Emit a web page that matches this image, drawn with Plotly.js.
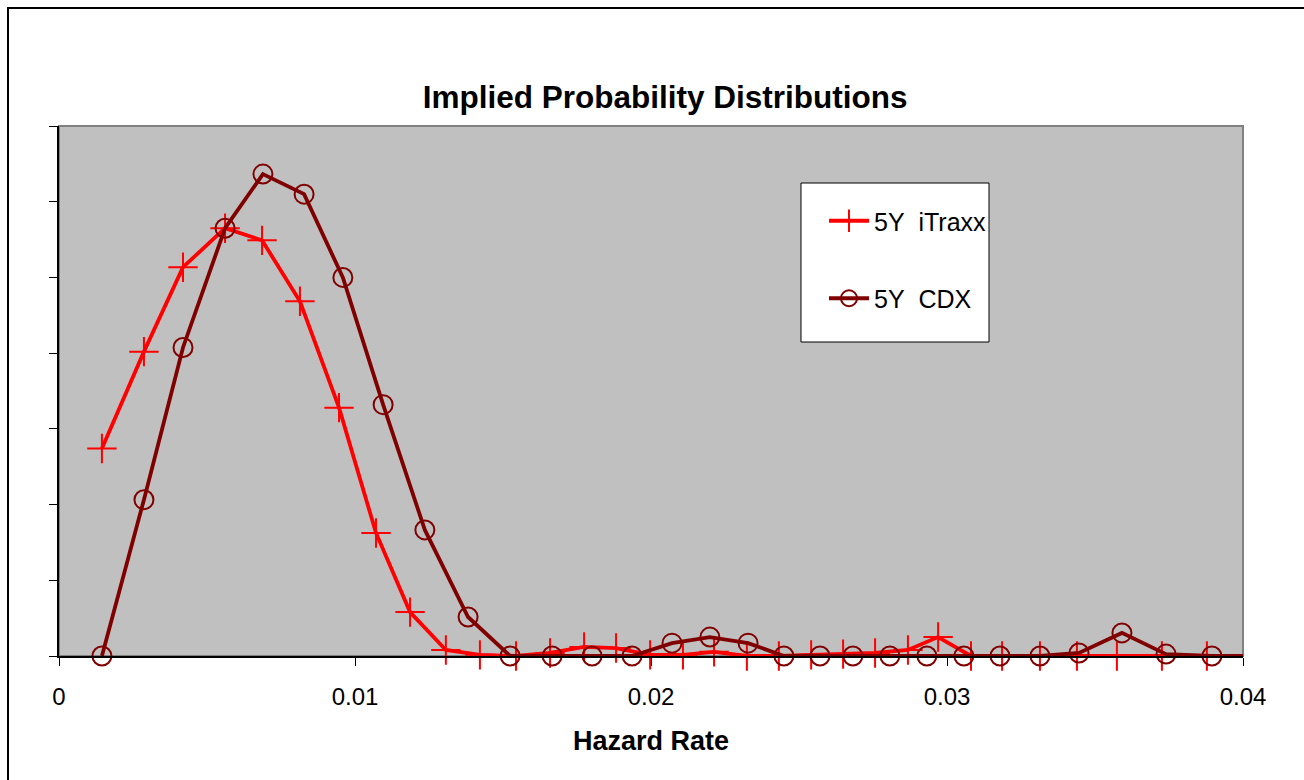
<!DOCTYPE html>
<html>
<head>
<meta charset="utf-8">
<script src="https://cdn.plot.ly/plotly-3.0.1.min.js"></script>
<style>
  html, body { margin: 0; padding: 0; background: #ffffff; }
  #chart { width: 1304px; height: 780px; }
</style>
</head>
<body>
<div id="chart"></div>
<script>
// Hazard rate grid and implied probabilities (y in arbitrary % units, axis unlabeled)
const itraxxHazard = [0.00145, 0.00287, 0.00419, 0.00561, 0.00686, 0.00814, 0.00946, 0.01071, 0.01186, 0.01307,
  0.01422, 0.01544, 0.01659, 0.01774, 0.01882, 0.01997, 0.02108, 0.02213, 0.02324, 0.02432,
  0.02541, 0.02649, 0.02757, 0.02868, 0.02970, 0.03081, 0.03186, 0.03314, 0.03439, 0.03574,
  0.03726, 0.03878, 0.04041];
const itraxxProb = [5.48, 8.04, 10.27, 11.30, 10.98, 9.37, 6.56, 3.25, 1.16, 0.16,
  0.03, 0.0, 0.08, 0.24, 0.21, 0.03, 0.03, 0.11, 0.0, 0.0,
  0.03, 0.05, 0.08, 0.16, 0.50, 0.0, 0.0, 0.0, 0.0, 0.0,
  0.0, 0.0, 0.0];

const cdxHazard = [0.00145, 0.00287, 0.00419, 0.00561, 0.00689, 0.00828, 0.00959, 0.01095, 0.01236, 0.01382,
  0.01524, 0.01666, 0.01801, 0.01936, 0.02071, 0.02199, 0.02328, 0.02449, 0.02571, 0.02682,
  0.02807, 0.02932, 0.03057, 0.03179, 0.03314, 0.03446, 0.03591, 0.03740, 0.03895, 0.04041];
const cdxProb = [0.0, 4.13, 8.15, 11.30, 12.73, 12.20, 10.00, 6.64, 3.33, 1.03,
  0.0, 0.0, 0.0, 0.0, 0.34, 0.50, 0.34, 0.0, 0.0, 0.0,
  0.0, 0.0, 0.0, 0.0, 0.0, 0.08, 0.61, 0.05, 0.0, 0.0];

const seriesNames = ["5Y\u00a0 iTraxx", "5Y\u00a0 CDX"];
const xTickVals = [0, 0.01, 0.02, 0.03, 0.04];
const xTickText = ["0", "0.01", "0.02", "0.03", "0.04"];

const FONT = "Liberation Sans, Arial, sans-serif";

// helpers to convert reference pixel positions to paper fractions (layout only)
const PL = 59, PT = 126, PW = 1184, PH = 530;
const px = v => (v - PL) / PW;
const py = v => (PT + PH - v) / PH;

const traces = [
  {
    x: itraxxHazard, y: itraxxProb, name: seriesNames[0],
    type: "scatter", mode: "lines+markers",
    line: { color: "#ff0000", width: 3.8 },
    marker: { symbol: "cross-thin-open", size: 21, color: "#ff0000", line: { color: "#ff0000", width: 2 } },
    legendgroup: "a", cliponaxis: false
  },
  {
    x: cdxHazard, y: cdxProb, name: seriesNames[1],
    type: "scatter", mode: "lines+markers",
    line: { color: "#800000", width: 3.8 },
    marker: { symbol: "circle-open", size: 19, color: "#800000", line: { color: "#800000", width: 2 } },
    legendgroup: "b", cliponaxis: false
  }
];

const layout = {
  width: 1304, height: 780,
  paper_bgcolor: "#ffffff",
  plot_bgcolor: "#c0c0c0",
  margin: { l: 59, r: 61, t: 126, b: 124, pad: 0 },
  font: { family: FONT, color: "#000000" },
  title: {
    text: "<b>Implied Probability Distributions</b>",
    font: { family: FONT, size: 31.5, color: "#000000" },
    xref: "container", yref: "container",
    x: 0.51, xanchor: "center", y: 1 - 97 / 780, yanchor: "middle"
  },
  xaxis: {
    range: [0, 0.04],
    tickvals: xTickVals, ticktext: xTickText,
    ticks: "outside", ticklen: 8, tickwidth: 1, tickcolor: "#000000",
    showline: true, linecolor: "#000000", linewidth: 2,
    showgrid: false, zeroline: false,
    tickfont: { family: FONT, size: 24, color: "#000000" },
    ticklabelstandoff: 10,
    title: { text: "<b>Hazard Rate</b>", font: { family: FONT, size: 27, color: "#000000" }, standoff: 22 }
  },
  yaxis: {
    range: [0, 14], dtick: 2,
    ticks: "outside", ticklen: 8, tickwidth: 1, tickcolor: "#000000",
    showticklabels: false,
    showline: true, linecolor: "#000000", linewidth: 2,
    showgrid: false, zeroline: false
  },
  legend: {
    x: px(824), y: py(198), xanchor: "left", yanchor: "top",
    bgcolor: "rgba(0,0,0,0)", borderwidth: 0,
    font: { family: FONT, size: 25, color: "#000000" },
    traceorder: "grouped", tracegroupgap: 42,
    itemwidth: 40
  },
  shapes: [
    { type: "rect", xref: "paper", yref: "paper", x0: 0, x1: 1, y0: 0, y1: 1,
      line: { color: "#808080", width: 2 }, layer: "below" },
    { type: "rect", xref: "paper", yref: "paper",
      x0: px(8), x1: 1.2, y0: -0.4, y1: py(8),
      line: { color: "#000000", width: 2 }, layer: "below" },
    { type: "rect", xref: "paper", yref: "paper",
      x0: px(801), x1: px(989), y0: py(342), y1: py(183),
      fillcolor: "#ffffff", line: { color: "#000000", width: 1 }, layer: "above" }
  ],
  showlegend: true
};

Plotly.newPlot("chart", traces, layout, { displayModeBar: false, staticPlot: true });
</script>
</body>
</html>
